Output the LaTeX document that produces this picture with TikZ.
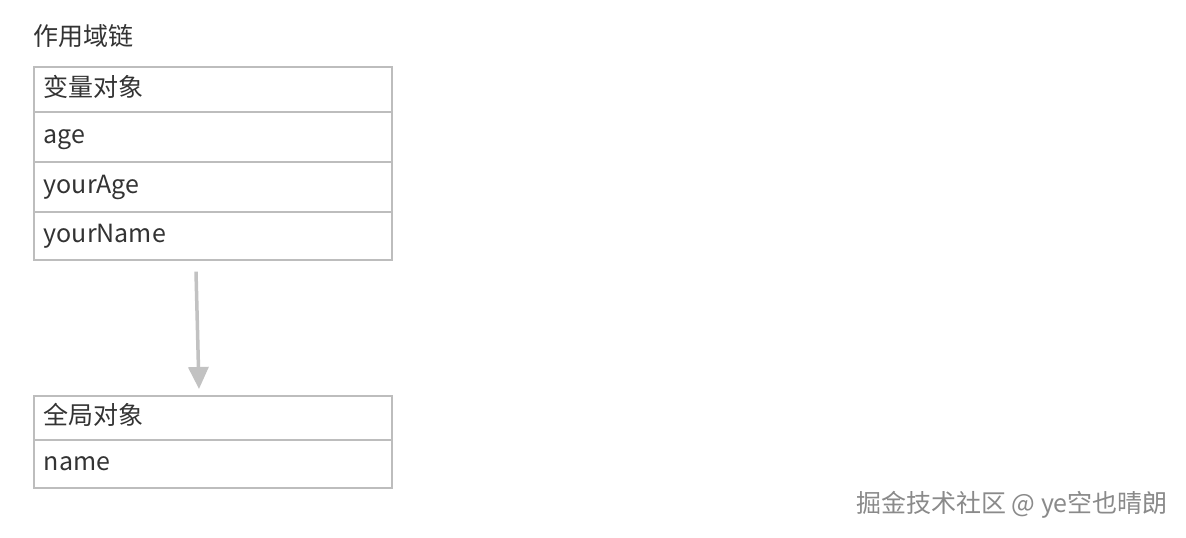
\documentclass[tikz,border=0pt]{standalone}
\usepackage{fontspec}
\setmainfont{Noto Sans CJK SC}
\usetikzlibrary{arrows.meta,calc}
\definecolor{boxline}{HTML}{BDBDBD}
\definecolor{txt}{HTML}{333333}
\definecolor{arrowc}{HTML}{C2C2C2}
\definecolor{wm}{HTML}{8A8A8A}
\tikzset{
  cell/.style={draw=boxline, line width=1.6pt, rectangle, anchor=north west,
    inner xsep=10pt, inner ysep=0pt, text width=338pt, align=left,
    text height=20pt, text depth=6pt,
    font=\fontsize{25}{29}\selectfont, text=txt},
  titletext/.style={anchor=west, inner sep=0pt, font=\fontsize{25}{29}\selectfont, text=txt},
  flow/.style={draw=arrowc, line width=3.5pt, -{Triangle[width=20pt,length=22pt]}},
  wmark/.style={anchor=east, inner sep=0pt, font=\fontsize{25}{29}\selectfont, text=wm}
}
\begin{document}
\begin{tikzpicture}[x=1pt,y=-1pt]
\useasboundingbox[fill=white] (0,0) rectangle (1186,538);
\node[titletext] (title) at (33,36) {作用域链};
\node[cell, minimum height=45pt] (v1) at (33,66) {变量对象};
\node[cell, minimum height=50pt] (v2) at (33,111) {age};
\node[cell, minimum height=50pt] (v3) at (33,161) {yourAge};
\node[cell, minimum height=48pt] (v4) at (33,211) {yourName};
\node[cell, minimum height=44pt] (g1) at (33,395) {全局对象};
\node[cell, minimum height=48pt] (g2) at (33,439) {name};
\draw[flow] ($(v4.south west)+(163,11)$) -- ($(g1.north west)+(166,-6)$);
\node[wmark] (wmk) at (1168,505) {掘金技术社区 @ ye空也晴朗};
\end{tikzpicture}
\end{document}
